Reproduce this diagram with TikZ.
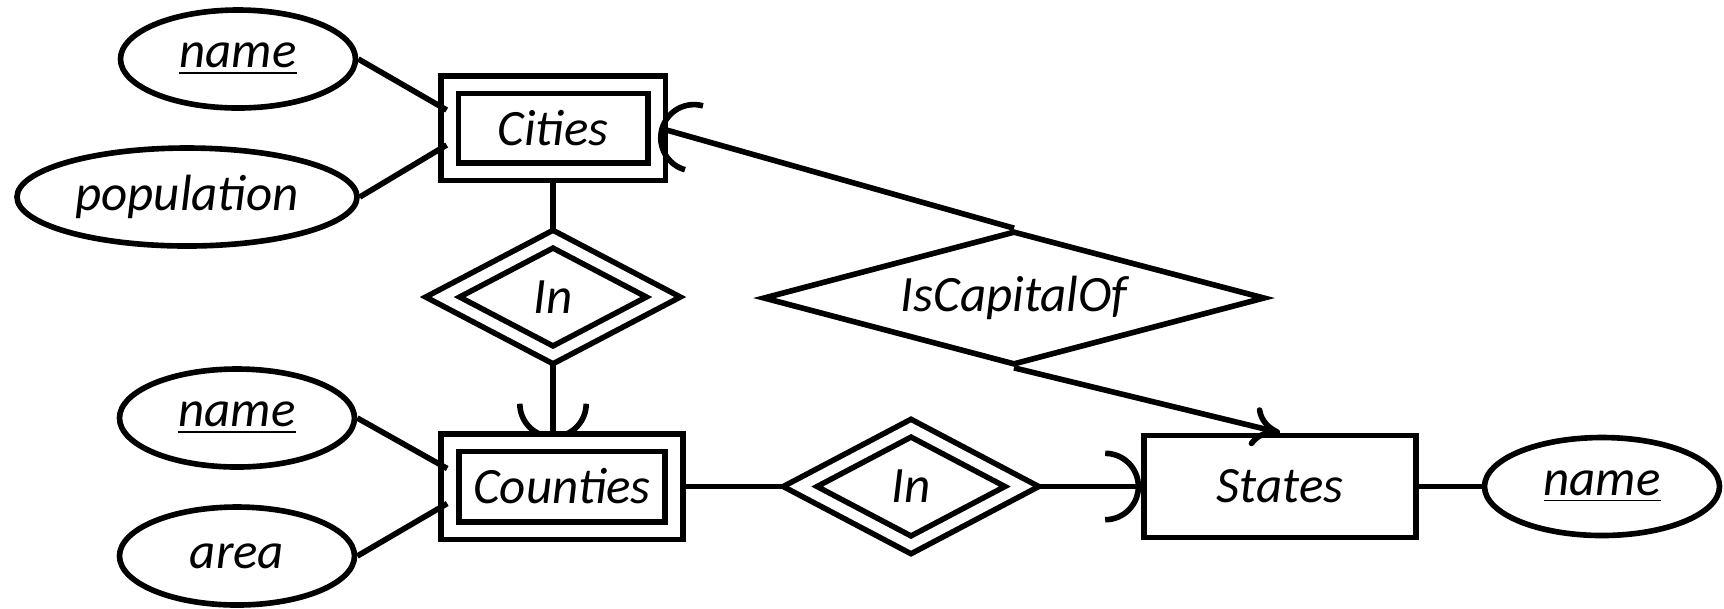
\documentclass[tikz,border=0pt]{standalone}
\usepackage{fontspec}
\setmainfont{Carlito}
\usetikzlibrary{positioning, shapes.geometric, calc, arrows.meta, backgrounds}
\tikzset{
        entity/.style={
            rectangle, draw, fill=white, line width=1.6pt, inner sep=0pt,
            minimum width=2.72cm, minimum height=1.02cm
        },
        weak-entity/.style={
            entity, double, double distance=1.2mm
        },
        attribute/.style={
            ellipse, draw, line width=1.6pt, inner sep=0pt,
            minimum width=2.35cm, minimum height=0.98cm
        },
        relation/.style={
            diamond, draw, fill=white, line width=1.6pt, inner sep=0pt, aspect=3.7,
            minimum width=5.02cm, minimum height=1.34cm
        },
        weak-relation/.style={
            diamond, draw, fill=white, line width=1.6pt, inner sep=0pt, aspect=1.9,
            double, double distance=1.0mm,
            minimum width=2.23cm, minimum height=1.18cm
        },
        link/.style={line width=1.6pt},
        roundtip/.tip={Arc Barb[arc=180, length=3.6mm, width=7.2mm, line width=1.6pt]},
}

\begin{document}
\begin{tikzpicture}[font=\fontsize{14.5}{17}\selectfont\itshape]

        \useasboundingbox (0,0) rectangle (17.24,-6.08);

        % DRAW NODES (placed relative to Cities)
        \node[weak-entity, minimum width=2.07cm, minimum height=0.87cm] (cities)   at (5.53,-1.28)               {Cities};
        \node[attribute]                                             (cname)    at ($(cities)+(-3.15,0.69)$)  {\underline{name}};
        \node[attribute, minimum width=3.40cm]                       (cpop)     at ($(cities)+(-3.66,-0.69)$) {population};
        \node[weak-relation]                                         (in1)      at ($(cities)+(0,-1.69)$)     {In};
        \node[weak-entity, minimum width=2.24cm, minimum height=0.88cm] (counties) at ($(cities)+(0.09,-3.585)$) {Counties};
        \node[attribute]                                             (kname)    at ($(cities)+(-3.16,-2.90)$) {\underline{name}};
        \node[attribute]                                             (karea)    at ($(cities)+(-3.16,-4.28)$) {area};
        \node[weak-relation, minimum width=2.24cm, minimum height=1.19cm] (in2) at ($(cities)+(3.58,-3.585)$) {In};
        \node[entity]                                                (states)   at ($(cities)+(7.27,-3.585)$) {States};
        \node[attribute]                                             (sname)    at ($(cities)+(10.49,-3.585)$) {\underline{name}};
        \node[relation]                                              (capital)  at ($(cities)+(4.61,-1.70)$)  {IsCapitalOf};

        % CONNECT ATTRIBUTES
        \draw [link] (cname.east) -- ($(cities.west)+(0,0.18)$);
        \draw [link] (cpop.east)  -- ($(cities.west)+(0,-0.17)$);
        \draw [link] (kname.east) -- ($(counties.west)+(0,0.18)$);
        \draw [link] (karea.east) -- ($(counties.west)+(0,-0.17)$);
        \draw [link] (states.east) -- (sname.west);

        \begin{scope}[on background layer]
            % CONNECT CITIES IN COUNTIES
            \draw [link] (cities.south) -- (in1.center);
            \draw [link, -{roundtip}] (in1.center) -- (in1.center |- counties.north);

            % CONNECT COUNTIES IN STATES
            \draw [link] (counties.east) -- (in2.center);
            \draw [link, -{roundtip}] (in2.center) -- (states.west);
        \end{scope}

        % CONNECT ISCAPITALOF
        \draw [link, {roundtip}-] (cities.east) -- (capital.north);
        \draw [link, -{Computer Modern Rightarrow[length=2.8mm, width=4mm]}] (capital.south) -- (states.north);

    \end{tikzpicture}
\end{document}
